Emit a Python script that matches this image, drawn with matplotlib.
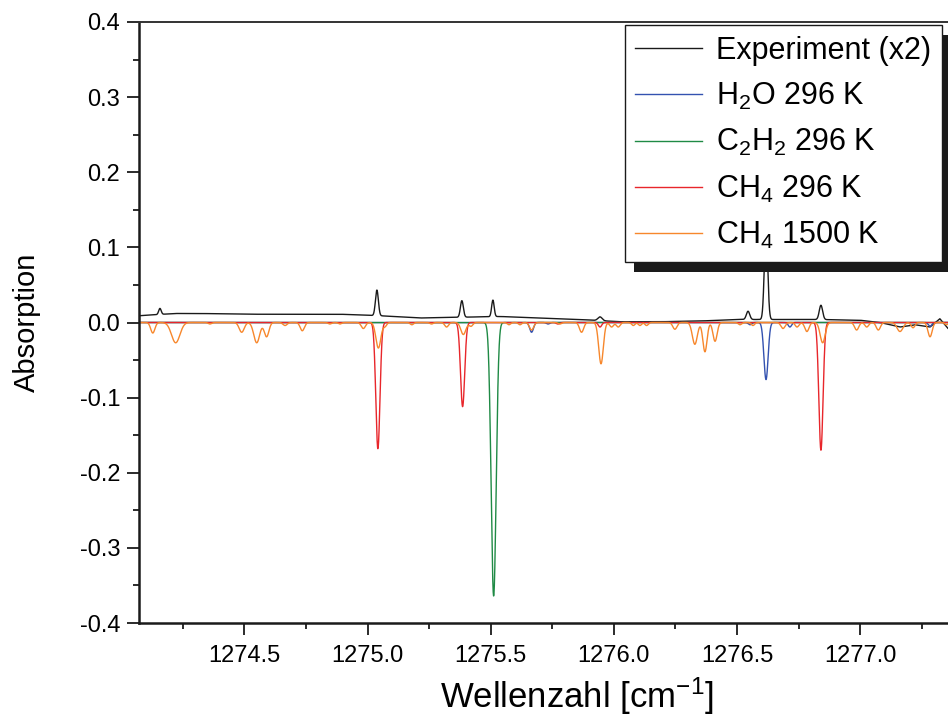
import numpy as np
import matplotlib
matplotlib.use("Agg")
import matplotlib.pyplot as plt
from matplotlib.patches import Rectangle
from matplotlib.transforms import IdentityTransform
from matplotlib.ticker import FixedLocator, FixedFormatter

plt.rcParams["font.family"] = ["Liberation Sans", "DejaVu Sans"]
plt.rcParams["mathtext.fontset"] = "custom"
plt.rcParams["mathtext.rm"] = "Liberation Sans"
plt.rcParams["mathtext.it"] = "Liberation Sans:italic"
plt.rcParams["mathtext.bf"] = "Liberation Sans:bold"
plt.rcParams["axes.unicode_minus"] = False

# ---------------------------------------------------------------- data
# Measured spectrum (scaled x2): slowly varying baseline knots
exp_base_nu = [1274.00, 1274.072, 1274.218, 1274.320, 1274.523, 1274.726, 1274.888,
               1275.050, 1275.213, 1275.375, 1275.538, 1275.700, 1275.863,
               1276.025, 1276.187, 1276.350, 1276.512, 1276.675, 1276.837,
               1277.000, 1277.081, 1277.162, 1277.223, 1277.284, 1277.324,
               1277.357, 1277.40, 1277.70]
exp_base_val = [0.009, 0.009, 0.012, 0.012, 0.011, 0.011, 0.011,
                0.009, 0.006, 0.007, 0.008, 0.006, 0.004,
                0.001, 0.001, 0.002, 0.004, 0.004, 0.004,
                0.003, 0.000, -0.006, -0.003, -0.006, 0.005,
                -0.008, -0.010, -0.010]
# Measured spectrum: peaks above the baseline
exp_pos = [1274.157, 1275.038, 1275.383, 1275.509, 1275.944, 1276.545, 1276.618, 1276.841]
exp_amp = [0.008, 0.034, 0.022, 0.022, 0.005, 0.011, 0.120, 0.019]
exp_fwhm = [0.012, 0.014, 0.014, 0.012, 0.020, 0.016, 0.016, 0.016]

# H2O 296 K simulated lines
h2o_pos = [1275.666, 1275.733, 1276.553, 1276.618, 1276.715, 1277.284]
h2o_depth = [0.013, 0.002, 0.003, 0.076, 0.006, 0.005]
h2o_fwhm = [0.018, 0.016, 0.016, 0.020, 0.016, 0.016]

# C2H2 296 K simulated lines
c2h2_pos = [1275.512]
c2h2_depth = [0.364]
c2h2_fwhm = [0.024]

# CH4 296 K simulated lines
ch4_pos = [1275.042, 1275.386, 1275.773, 1275.944, 1276.841]
ch4_depth = [0.168, 0.112, 0.002, 0.006, 0.170]
ch4_fwhm = [0.020, 0.020, 0.016, 0.016, 0.020]

# CH4 1500 K simulated lines
hot_pos = [1274.128, 1274.221, 1274.360, 1274.489, 1274.550, 1274.590, 1274.665,
           1274.735, 1274.847, 1274.888, 1274.983, 1275.044, 1275.071, 1275.180,
           1275.260, 1275.321, 1275.389, 1275.420, 1275.574, 1275.619, 1275.666,
           1275.781, 1275.869, 1275.948, 1275.991, 1276.018, 1276.079, 1276.106,
           1276.133, 1276.248, 1276.329, 1276.370, 1276.411, 1276.512, 1276.565,
           1276.687, 1276.744, 1276.784, 1276.848, 1276.986, 1277.027, 1277.074,
           1277.162, 1277.215, 1277.284, 1277.351]
hot_depth = [0.014, 0.027, 0.002, 0.013, 0.027, 0.019, 0.004,
             0.011, 0.002, 0.002, 0.008, 0.034, 0.005, 0.003,
             0.002, 0.006, 0.016, 0.005, 0.003, 0.003, 0.010,
             0.002, 0.013, 0.055, 0.006, 0.006, 0.004, 0.004,
             0.004, 0.009, 0.029, 0.039, 0.025, 0.003, 0.004,
             0.008, 0.006, 0.012, 0.027, 0.010, 0.006, 0.010,
             0.012, 0.007, 0.019, 0.003]
hot_fwhm = [0.020, 0.040, 0.016, 0.024, 0.028, 0.022, 0.020,
            0.020, 0.016, 0.016, 0.020, 0.024, 0.016, 0.016,
            0.016, 0.018, 0.024, 0.018, 0.016, 0.016, 0.020,
            0.016, 0.020, 0.022, 0.018, 0.018, 0.016, 0.016,
            0.016, 0.020, 0.024, 0.020, 0.020, 0.016, 0.016,
            0.020, 0.018, 0.020, 0.024, 0.020, 0.018, 0.020,
            0.028, 0.018, 0.020, 0.016]

x_ticks = [1274.5, 1275.0, 1275.5, 1276.0, 1276.5, 1277.0]
x_tick_labels = ["1274.5", "1275.0", "1275.5", "1276.0", "1276.5", "1277.0"]
y_ticks = [-0.4, -0.3, -0.2, -0.1, 0.0, 0.1, 0.2, 0.3, 0.4]
y_tick_labels = ["-0.4", "-0.3", "-0.2", "-0.1", "0.0", "0.1", "0.2", "0.3", "0.4"]

labels = ["Experiment (x2)", r"H$_2$O 296 K", r"C$_2$H$_2$ 296 K",
          r"CH$_4$ 296 K", r"CH$_4$ 1500 K"]
colors = ["#1a1a1a", "#3352b0", "#1f8a45", "#e8262b", "#f7872c"]

# ---------------------------------------------------------------- spectra
nu = np.linspace(1274.0, 1277.7, 8000)


def line_sum(pos, amp, fwhm):
    out = np.zeros_like(nu)
    for p, a, w in zip(pos, amp, fwhm):
        s = w / 2.3548
        out += a * np.exp(-0.5 * ((nu - p) / s) ** 2)
    return out


experiment = np.interp(nu, exp_base_nu, exp_base_val) + line_sum(exp_pos, exp_amp, exp_fwhm)
h2o = -line_sum(h2o_pos, h2o_depth, h2o_fwhm)
c2h2 = -line_sum(c2h2_pos, c2h2_depth, c2h2_fwhm)
ch4 = -line_sum(ch4_pos, ch4_depth, ch4_fwhm)
hot = -line_sum(hot_pos, hot_depth, hot_fwhm)

# ---------------------------------------------------------------- figure
W, H = 948, 719
fig = plt.figure(figsize=(W / 100, H / 100), dpi=100)
ax = fig.add_axes([139 / W, 96 / H, 876 / W, 601 / H])

series = [experiment, h2o, c2h2, ch4, hot]
for y, c, lab in zip(series, colors, labels):
    ax.plot(nu, y, color=c, lw=1.0, label=lab)

ax.set_xlim(1274.072, 1277.629)
ax.set_ylim(-0.4, 0.4)

ax.xaxis.set_major_locator(FixedLocator(x_ticks))
ax.xaxis.set_major_formatter(FixedFormatter(x_tick_labels))
ax.xaxis.set_minor_locator(FixedLocator(np.arange(1274.25, 1277.6, 0.5)))
ax.yaxis.set_major_locator(FixedLocator(y_ticks))
ax.yaxis.set_major_formatter(FixedFormatter(y_tick_labels))
ax.yaxis.set_minor_locator(FixedLocator(np.arange(-0.35, 0.36, 0.1)))

for s in ["left", "bottom"]:
    ax.spines[s].set_linewidth(1.8)
    ax.spines[s].set_color("#1a1a1a")
ax.spines["top"].set_linewidth(1.4)
ax.spines["top"].set_color("#333333")
ax.spines["right"].set_visible(False)

ax.tick_params(which="major", direction="out", length=8.5, width=1.3,
               labelsize=17, pad=5, color="#1a1a1a")
ax.tick_params(which="minor", direction="out", length=4.5, width=1.3, color="#1a1a1a")
ax.tick_params(axis="x", which="major", pad=7)
ax.tick_params(top=False, right=False)

ax.set_ylabel("Absorption", fontsize=21)
ax.yaxis.set_label_coords(-0.112, 0.5)
ax.set_xlabel(r"Wellenzahl [cm$^{-1}$]", fontsize=25)
ax.xaxis.label.set_va("bottom")
ax.xaxis.set_label_coords(0.5, -(717 - 623) / 601)

leg = ax.legend(loc="upper right", bbox_to_anchor=(942 / W, (H - 25) / H),
                bbox_transform=fig.transFigure, borderaxespad=0, fontsize=22,
                frameon=True, fancybox=False, handlelength=2.2, handletextpad=0.45,
                labelspacing=0.5, borderpad=0.35)
leg.get_frame().set_edgecolor("#1a1a1a")
leg.get_frame().set_linewidth(1.0)
leg.get_frame().set_alpha(1.0)
for h in leg.get_lines():
    h.set_linewidth(1.0)

fig.canvas.draw()
bb = leg.get_window_extent()
shadow = Rectangle((bb.x0 + 9, bb.y0 - 10), bb.width, bb.height,
                   transform=IdentityTransform(), facecolor="#1a1a1a",
                   edgecolor="none", zorder=leg.get_zorder() - 0.1, clip_on=False)
ax.add_artist(shadow)

fig.savefig("out.png", dpi=100)
